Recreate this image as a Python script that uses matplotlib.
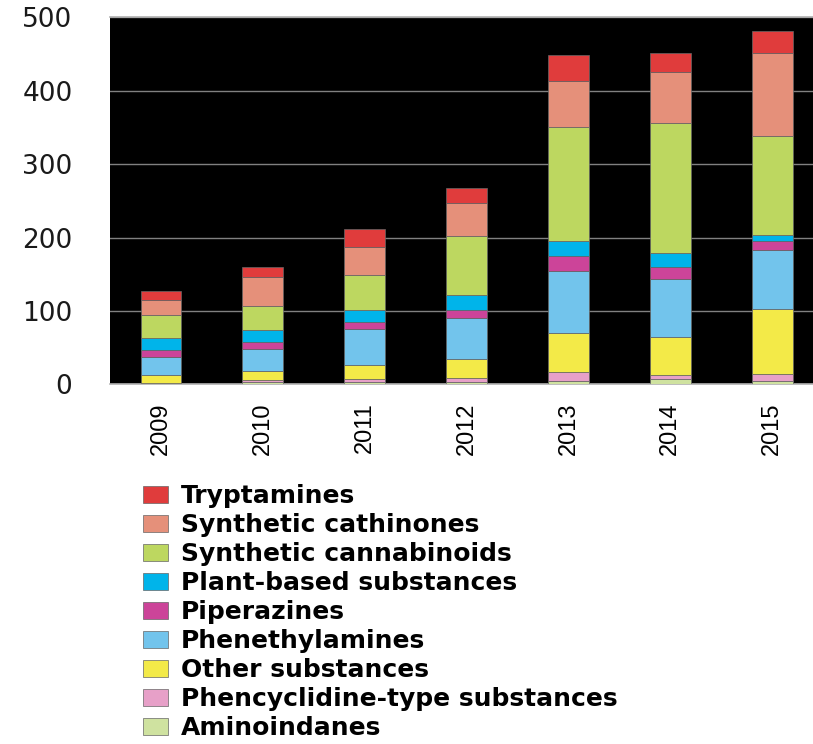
import matplotlib.pyplot as plt
import numpy as np

years = ["2009", "2010", "2011", "2012", "2013", "2014", "2015"]

# stacked from bottom to top
aminoindanes   = [0.5, 3, 4, 4, 5, 7, 5]
phencyclidine  = [1, 3, 3.5, 4.5, 11.5, 6, 9.5]
other          = [12, 12, 19, 26.5, 53, 52, 88]
phenethyl      = [24.5, 30, 48.5, 56, 85.5, 79, 81]
piperazines    = [9, 9.5, 10.5, 11, 20, 16, 12]
plant_based    = [16, 16, 16, 19.5, 20, 19, 8.5]
cannabinoids   = [31, 34, 48, 81, 156, 177, 134]
cathinones     = [21, 38.5, 38, 44.5, 62, 69, 113.5]
tryptamines    = [12, 14.5, 23.5, 21, 35, 26.5, 30]

series = [
    ("Aminoindanes", aminoindanes, "#CFE2A0"),
    ("Phencyclidine-type substances", phencyclidine, "#E7A0C8"),
    ("Other substances", other, "#F3EA48"),
    ("Phenethylamines", phenethyl, "#72C4EC"),
    ("Piperazines", piperazines, "#CC4499"),
    ("Plant-based substances", plant_based, "#00B4EA"),
    ("Synthetic cannabinoids", cannabinoids, "#BDD760"),
    ("Synthetic cathinones", cathinones, "#E5907A"),
    ("Tryptamines", tryptamines, "#E03C3C"),
]

fig = plt.figure(figsize=(8.13, 7.44), dpi=100)
ax = fig.add_axes([0.1353, 0.4832, 0.8647, 0.4938])
ax.set_facecolor("black")

x = np.arange(len(years))
bottom = np.zeros(len(years))
handles = []
for name, vals, col in series:
    b = ax.bar(x, vals, width=0.4, bottom=bottom, color=col,
               edgecolor="#666666", linewidth=0.5, label=name, zorder=3)
    handles.append(b)
    bottom += np.array(vals)

ax.set_ylim(0, 500)
ax.set_xlim(-0.5, 6.4)
ax.set_yticks([0, 100, 200, 300, 400, 500])
ax.yaxis.grid(True, color="#808080", linewidth=1.0, zorder=0)
ax.set_axisbelow(True)
ax.tick_params(axis="y", length=0, pad=27, labelsize=19, labelcolor="#1a1a1a")
ax.set_xticks(x)
ax.set_xticklabels(years, rotation=90, fontsize=17, family="Liberation Sans")
ax.tick_params(axis="x", length=0, pad=13)

for s in ["left", "right"]:
    ax.spines[s].set_visible(False)
for s in ["top", "bottom"]:
    ax.spines[s].set_color("#b0b0b0")
    ax.spines[s].set_linewidth(1.2)

leg = fig.legend(handles[::-1], [s[0] for s in series][::-1],
                 loc="upper left", bbox_to_anchor=(0.176, 0.349),
                 frameon=False, prop={"weight": "bold", "size": 18},
                 handlelength=1.0, handleheight=0.7, handletextpad=0.5,
                 labelspacing=0.2, borderaxespad=0, borderpad=0)

fig.savefig("out.png", dpi=100)
